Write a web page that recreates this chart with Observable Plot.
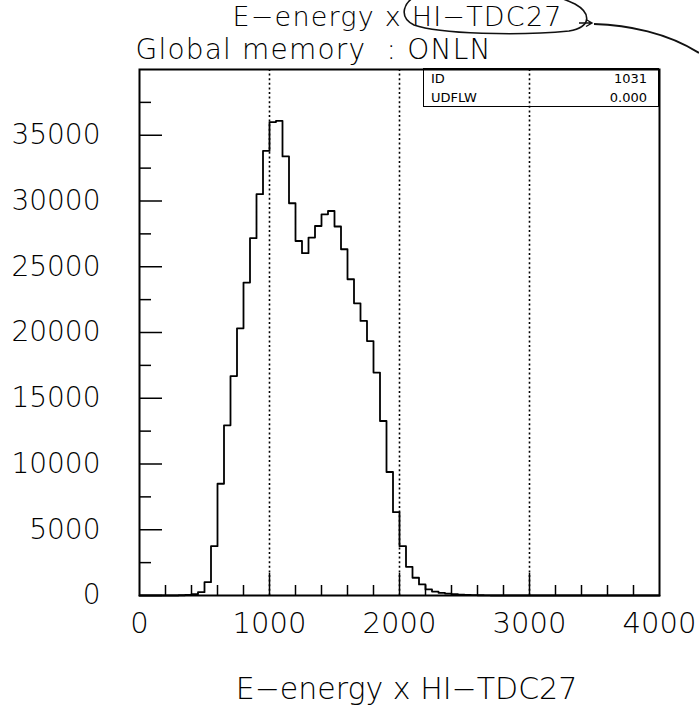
<!DOCTYPE html>
<html><head><meta charset="utf-8">
<script src="https://cdn.jsdelivr.net/npm/d3@7"></script>
<script src="https://cdn.jsdelivr.net/npm/@observablehq/plot@0.6"></script>
<style>
body{margin:0;background:#fff;}
#wrap{position:relative;width:699px;height:716px;overflow:hidden;background:#fff;font-family:"DejaVu Sans",sans-serif;}
#wrap svg{display:block;}
#stats{position:absolute;left:423px;top:68px;width:236px;height:39px;border:1.5px solid #000;box-sizing:border-box;font-size:13px;color:#000;font-weight:400;}
#stats .row{position:absolute;left:7px;right:11px;height:19px;line-height:19px;}
#stats .row span.v{position:absolute;right:0;}
#anno{position:absolute;left:0;top:0;pointer-events:none;}
</style></head><body>
<div id="wrap"></div>
<script>
// ---- data ----
const binWidth = 50;
// counts per 50-wide bin, bins from 0 to 4000
const counts = [
  0, 0, 0, 0, 0, 0, 20, 50, 100, 250,          // 0 .. 450
  1010, 3750, 8500, 12940, 16690, 20320, 23800, 27170, 30520, 33810, // 500 .. 950
  36000, 36100, 33390, 29830, 26960, 26030, 27220, 28100, 28990, 29240, // 1000 .. 1450
  28060, 26330, 24050, 22220, 20880, 19350, 16950, 13270, 9390, 6340,  // 1500 .. 1950
  3750, 2180, 1350, 840, 460, 300, 200, 150, 100, 70,                  // 2000 .. 2450
  50, 30, 20, 10, 0, 0, 0, 0, 0, 0,                                    // 2500 .. 2950
  0, 0, 0, 0, 0, 0, 0, 0, 0, 0,                                        // 3000 .. 3450
  0, 0, 0, 0, 0, 0, 0, 0, 0, 0                                         // 3500 .. 3950
];
const yLabelTicks = [0, 5000, 10000, 15000, 20000, 25000, 30000, 35000];
const yMinorTicks = [2500, 7500, 12500, 17500, 22500, 27500, 32500, 37500];
const xLabelTicks = [0, 1000, 2000, 3000, 4000];
const xGridTicks = [1000, 2000, 3000];
const xMinorTicks = [200, 400, 600, 800, 1200, 1400, 1600, 1800, 2200, 2400, 2600, 2800, 3200, 3400, 3600, 3800];
const titleText = "E\u2212energy x HI\u2212TDC27";
const subtitleText = "Global memory\u00a0\u00a0: ONLN";
const xLabelText = "E\u2212energy x HI\u2212TDC27";
const statNames = ["ID", "UDFLW"];
const statValues = ["1031", "0.000"];

// ---- build ----
const points = counts.map((c, i) => ({x: i * binWidth, y: c}));
points.push({x: counts.length * binWidth, y: counts[counts.length - 1]});

const W = 699, H = 716;
const mL = 139, mR = 40, mT = 69, mB = 121;
const fW = W - mL - mR, fH = H - mT - mB;
const FONT = "DejaVu Sans";

const chart = Plot.plot({
  width: W, height: H,
  marginLeft: mL, marginRight: mR, marginTop: mT, marginBottom: mB,
  x: {domain: [0, 4000]},
  y: {domain: [0, 40000]},
  style: {fontFamily: FONT, fontWeight: 200, background: "white", color: "black", overflow: "visible"},
  marks: [
    Plot.ruleX(xGridTicks, {stroke: "black", strokeWidth: 1.6, strokeDasharray: "2,2.6"}),
    Plot.tickX(xMinorTicks, {x: d => d, insetTop: fH - 10, stroke: "black", strokeWidth: 1.5}),
    Plot.tickX(xGridTicks, {x: d => d, insetTop: fH - 22, stroke: "black", strokeWidth: 1.5}),
    Plot.tickY(yLabelTicks, {y: d => d, insetRight: fW - 23, stroke: "black", strokeWidth: 1.5}),
    Plot.tickY(yMinorTicks, {y: d => d, insetRight: fW - 12, stroke: "black", strokeWidth: 1.5}),
    Plot.line(points, {x: "x", y: "y", curve: "step-after", stroke: "black", strokeWidth: 1.8}),
    Plot.frame({stroke: "black", strokeWidth: 2}),
    Plot.axisY(yLabelTicks, {tickSize: 0, tickPadding: 39, fontSize: 28, fill: "black", tickFormat: d => String(d), label: null}),
    Plot.axisX(xLabelTicks, {tickSize: 0, tickPadding: 17, fontSize: 29, fill: "black", tickFormat: d => String(d), label: null}),
    Plot.text([titleText], {text: d => d, frameAnchor: "top-left", textAnchor: "start", lineAnchor: "bottom", dx: 93, dy: -43.5, fontSize: 27, fill: "black"}),
    Plot.text([subtitleText], {text: d => d, frameAnchor: "top-left", textAnchor: "start", lineAnchor: "bottom", dx: -4, dy: -11, fontSize: 28, fill: "black"}),
    Plot.text([xLabelText], {text: d => d, frameAnchor: "bottom", dx: 7, dy: 103, fontSize: 30, fill: "black"})
  ]
});
// the printout's header lettering is a little wider than DejaVu: widen the two header lines only
const headerNodes = d3.select(chart).selectAll("text").nodes();
const titleNode = headerNodes.find(n => n.textContent === titleText);
const subtitleNode = headerNodes.find(n => n.textContent === subtitleText);
[titleNode, subtitleNode].forEach(n => { if (n) n.style.letterSpacing = "1.2px"; });

const wrap = document.getElementById("wrap");
wrap.appendChild(chart);

// statistics box
const box = document.createElement("div");
box.id = "stats";
statNames.forEach((n, i) => {
  const r = document.createElement("div");
  r.className = "row";
  r.style.top = (i * 19) + "px";
  r.innerHTML = `<span>${n}</span><span class="v">${statValues[i]}</span>`;
  box.appendChild(r);
});
wrap.appendChild(box);

// hand-drawn pen annotation on the printout
const ns = "http://www.w3.org/2000/svg";
const anno = document.createElementNS(ns, "svg");
anno.setAttribute("id", "anno");
anno.setAttribute("width", W);
anno.setAttribute("height", H);
anno.innerHTML = `
  <path d="M 419 -5 C 403 1, 398 17, 414 25 C 439 34, 519 36, 569 31 C 592 27, 591 13, 575 4 C 565 -1, 555 -4, 544 -7" fill="none" stroke="#111" stroke-width="1.6"/>
  <path d="M 579 23 L 592 23 M 586 19.5 L 592 23 L 586 26.5" fill="none" stroke="#111" stroke-width="1.4"/>
  <path d="M 594 24 C 628 25, 668 33, 699 53" fill="none" stroke="#111" stroke-width="2"/>
`;
wrap.appendChild(anno);
</script>
</body></html>
